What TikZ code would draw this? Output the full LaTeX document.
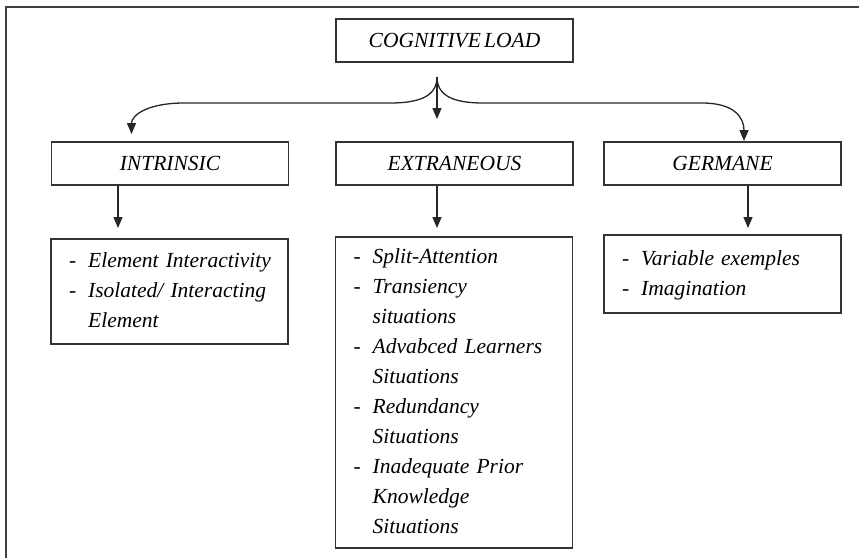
\documentclass[tikz,border=0pt]{standalone}
\usepackage{fontspec}
\setmainfont[WordSpace=0.6]{Liberation Serif}
\usetikzlibrary{arrows.meta}
\newcommand\lstfontsel{\fontsize{21.5}{30}\selectfont\itshape\spaceskip=3.6pt plus 1pt minus 1pt\relax}
\begin{document}
\begin{tikzpicture}[x=1pt,y=-1pt,
  hdr/.style={draw=black!80, line width=1.4pt, minimum width=237pt, minimum height=43pt, inner sep=0pt, font=\fontsize{21.5}{25}\selectfont\itshape},
  lst/.style={draw=black!80, line width=1.4pt, text width=201pt, inner xsep=18pt, inner ysep=0pt, align=left, font=\lstfontsel},
  arr/.style={line width=1.3pt, draw=black!85, -{Triangle[length=11pt,width=9pt]}},
  frame/.style={line width=1.4pt, draw=black!75}]
\useasboundingbox (0,0) rectangle (859,558);
% frame
\coordinate (ftr) at (859,7);
\coordinate (ftl) at (6,7);
\coordinate (fbl) at (6,558);
\draw[frame] (ftr) -- (ftl) -- (fbl);
% header boxes
\node[hdr] (cl) at (454.5,40.5) {COGNITIVE LOAD};
\node[hdr] (intr) at (170,163.5) {INTRINSIC};
\node[hdr] (extr) at (454.5,163.5) {EXTRANEOUS};
\node[hdr] (germ) at (722.5,163.5) {GERMANE};
% content boxes
\node[lst, minimum height=105pt] (intrc) at (169.5,291.5) {%
\begin{tabular}{@{}l@{\hspace{12pt}}l@{}}
- & Element Interactivity\\
- & Isolated/ Interacting\\
  & Element
\end{tabular}};
\node[lst, minimum height=311pt] (extrc) at (454,392.5) {%
\begin{tabular}{@{}l@{\hspace{12pt}}l@{}}
- & Split-Attention\\
- & Transiency\\
  & situations\\
- & Advabced Learners\\
  & Situations\\
- & Redundancy\\
  & Situations\\
- & Inadequate Prior\\
  & Knowledge\\
  & Situations
\end{tabular}};
\node[lst, minimum height=78pt] (germc) at (722.5,274) {%
\begin{tabular}{@{}l@{\hspace{12pt}}l@{}}
- & Variable exemples\\
- & Imagination
\end{tabular}};
% top connectors
\coordinate (split) at (437,77);
\coordinate (tipI) at (131.5,134);
\coordinate (tipE) at (437,119);
\coordinate (tipG) at (744,141);
\draw[arr] (split) .. controls (437,96) and (420,103) .. (390,103) -- (184,103) .. controls (148,103) and (131.5,115) .. (tipI);
\draw[arr] (split) -- (tipE);
\draw[arr] (split) .. controls (437,96) and (454,103) .. (483,103) -- (702,103) .. controls (735,103) and (744,118) .. (tipG);
% lower connectors
\draw[arr] ([xshift=-52pt]intr.south) -- ([xshift=-52pt]intr.south |- 0,228);
\draw[arr] ([xshift=-17.5pt]extr.south) -- ([xshift=-17.5pt]extr.south |- 0,228);
\draw[arr] ([xshift=25.5pt]germ.south) -- ([xshift=25.5pt]germ.south |- 0,228);
\end{tikzpicture}
\end{document}
